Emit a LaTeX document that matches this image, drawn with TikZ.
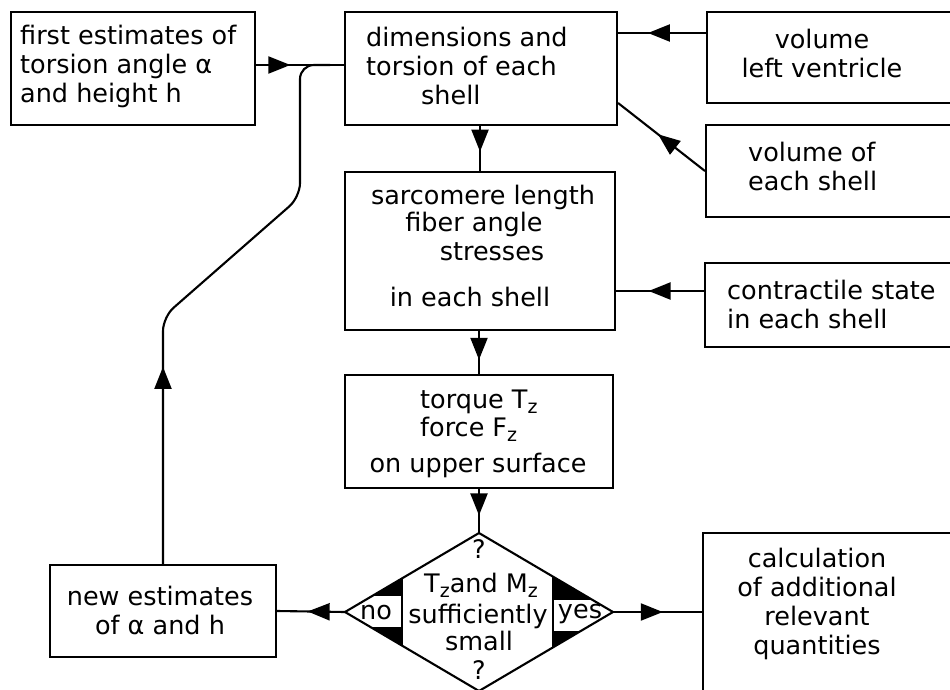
\documentclass[tikz,border=0pt]{standalone}
\usepackage{fontspec}
\setmainfont{DejaVu Sans}
\usetikzlibrary{arrows.meta,decorations.markings}
\newcommand\subz{\raisebox{-0.4ex}{\fontsize{19}{19}\selectfont z}}
\begin{document}
\begin{tikzpicture}[x=1pt,y=-1pt,
  line/.style={line width=2.1pt},
  box/.style={draw,line width=2.1pt,inner sep=0pt},
  txt/.style={inner sep=0pt,font=\fontsize{25.5}{29}\selectfont},
  tipat/.style={postaction={decorate},decoration={markings,
     mark=at position #1 with {\arrow{Triangle[length=22pt,width=17pt]}}}}]
\fill[white] (0,0) rectangle (950,690);
\useasboundingbox (0,0) rectangle (950,690);

% boxes
\node[box,minimum width=244pt,minimum height=113pt] (A) at (133,68.5) {};
\node[box,minimum width=272pt,minimum height=113pt] (B) at (481,68.5) {};
\node[box,minimum width=255pt,minimum height=91pt] (C) at (834.5,57.5) {};
\node[box,minimum width=256pt,minimum height=92pt] (D) at (834,171) {};
\node[box,minimum width=270pt,minimum height=158pt] (E) at (480,251) {};
\node[box,minimum width=257pt,minimum height=84pt] (F) at (833.5,305) {};
\node[box,minimum width=268pt,minimum height=113pt] (G) at (479,431.5) {};
\node[box,minimum width=226pt,minimum height=92pt] (H) at (163,611) {};
\node[box,minimum width=259pt,minimum height=167pt] (I) at (832.5,616.5) {};

% diamond
\coordinate (Dm) at (479,612);
\coordinate (DmN) at (479,533);
\coordinate (DmS) at (479,691);
\coordinate (DmW) at (345,612);
\coordinate (DmE) at (613,612);
\begin{scope}
  \clip (DmN) -- (DmE) -- (DmS) -- (DmW) -- cycle;
  \fill[black] (330,560) rectangle (402,596);
  \fill[black] (330,627) rectangle (402,660);
  \fill[black] (553,560) rectangle (630,600);
  \fill[black] (553,631) rectangle (630,660);
  \draw[line] (402,560) -- (402,660);
  \draw[line] (553,560) -- (553,660);
\end{scope}
\draw[line,line join=miter] (DmN) -- (DmE) -- (DmS) -- (DmW) -- cycle;

% texts
\node[txt,anchor=west,align=left] (tA) at (20,66) {first estimates of\\torsion angle α\\and height h};
\node[txt,anchor=west,align=left] (tB) at (366,66) {dimensions and\\torsion of each\\\hspace*{55pt}shell};
\node[txt,align=center] (tC) at (822,53) {volume\\left ventricle};
\node[txt,anchor=west,align=left] (tD) at (748,166) {volume of\\each shell};
\node[txt] (tE1) at (483,197) {sarcomere length};
\node[txt] (tE2) at (474,224) {fiber angle};
\node[txt] (tE3) at (492,252) {stresses};
\node[txt] (tE4) at (470,297) {in each shell};
\node[txt,anchor=west,align=left] (tF) at (727,304) {contractile state\\in each shell};
\node[txt,anchor=base west] (tG1) at (420,408) {torque T\subz};
\node[txt,anchor=base west] (tG2) at (420,436) {force F\subz};
\node[txt] (tG3) at (478,465) {on upper surface};
\node[txt,align=center] (tH) at (160,610) {new estimates\\of α and h};
\node[txt,align=center] (tI) at (817,604) {calculation\\of additional\\relevant\\quantities};
\node[txt] (q1) at (479,549) {?};
\node[txt,anchor=base] (tD1) at (481,592) {T\subz and M\subz};
\node[txt] (tD2) at (478,616) {sufficiently};
\node[txt] (tD3) at (479,641) {small};
\node[txt] (q2) at (479,670) {?};
\node[txt] (tno) at (376,613) {no};
\node[txt] (tyes) at (580,614) {yes};

% connectors
\draw[line,tipat=0.39] ([yshift=3.5pt]A.east) -- ([yshift=3.5pt]B.west);
\draw[line,tipat=0.66] ([yshift=24.5pt]C.west) -- ([yshift=35.5pt]B.east);
\draw[line,tipat=0.54] (D.west) -- ([yshift=-34.5pt]B.east);
\draw[line,tipat=0.57] (B.south -| E.north) -- (E.north);
\draw[line,tipat=0.63] ([yshift=14pt]F.west) -- ([yshift=-40pt]E.east);
\draw[line,tipat=0.67] (E.south -| G.north) -- (G.north);
\draw[line,tipat=0.6] (G.south) -- (DmN);
\draw[line,tipat=0.55] (DmW) -- (H.east);
\draw[line,tipat=0.56] (DmE) -- ([yshift=4.5pt]I.west);

% feedback loop
\coordinate (L1) at (163,317);
\coordinate (L2) at (300,197);
\coordinate (L3) at (300,65);
\coordinate (J) at (330,65);
\coordinate (L0) at (163,345);
\draw[line,rounded corners=14pt] (H.north) -- (L1) -- (L2) -- (L3) -- (J);
\draw[line,tipat=0.9] (H.north) -- (L0);
\end{tikzpicture}
\end{document}
